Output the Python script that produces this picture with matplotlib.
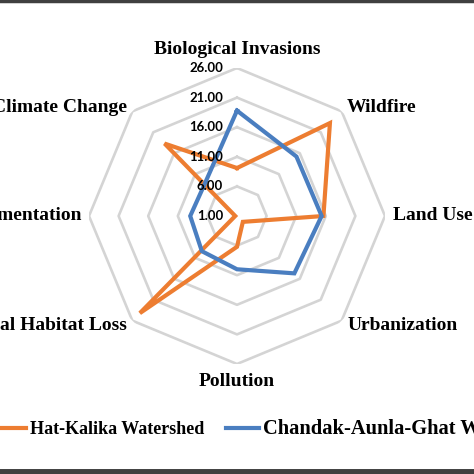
import numpy as np
import matplotlib
matplotlib.use('Agg')
import matplotlib.pyplot as plt
from matplotlib.lines import Line2D

# categories clockwise from the top
categories = ['Biological Invasions', 'Wildfire', 'Land Use', 'Urbanization',
              'Pollution', 'Natural Habitat Loss', 'Fragmentation', 'Climate Change']
hat_kalika = [9.1, 23.2, 15.6, 2.4, 6.2, 24.2, 1.3, 18.3]
chandak = [18.8, 15.2, 15.3, 14.7, 10.0, 9.4, 8.9, 8.7]
ring_values = [6, 11, 16, 21, 26]
tick_values = [1, 6, 11, 16, 21, 26]
series_names = ['Hat-Kalika Watershed', 'Chandak-Aunla-Ghat Watershed']

orange = '#ED7D31'
blue = '#4A7EC0'
grid_col = '#D4D4D4'
serif = ['Liberation Serif', 'DejaVu Serif']

fig = plt.figure(figsize=(4.74, 4.74), dpi=100)
size = 2 * 148 / 474
cy = 1 - 216 / 474
ax = fig.add_axes([0.5 - size / 2, cy - size / 2, size, size], projection='polar')
ax.set_theta_zero_location('N')
ax.set_theta_direction(-1)
ax.set_ylim(1, 26)
ax.set_axis_off()

n = len(categories)
angles = np.linspace(0, 2 * np.pi, n, endpoint=False)
closed = np.append(angles, angles[0])

# polygon grid rings
for v in ring_values:
    ax.plot(closed, [v] * (n + 1), color=grid_col, lw=1.9, zorder=1)

l1, = ax.plot(closed, hat_kalika + hat_kalika[:1], color=orange, lw=3, zorder=3,
              solid_joinstyle='miter')
l2, = ax.plot(closed, chandak + chandak[:1], color=blue, lw=3, zorder=4,
              solid_joinstyle='miter')

# radial tick labels
for v in tick_values:
    ax.annotate(f'{v:.2f}', xy=(0, v), xytext=(-14, 0), textcoords='offset pixels',
                ha='right', va='center', fontsize=9.5, fontweight='bold',
                family=['Lato', 'DejaVu Sans'], zorder=6, annotation_clip=False)

# category labels: (dx, dy, ha)
label_pos = [(0, 18, 'center'), (5, 4, 'left'), (8, 0, 'left'), (6, -5, 'left'),
             (0, -18, 'center'), (-5, -5, 'right'), (-7, 0, 'right'), (-5, 4, 'right')]
for ang, name, (dx, dy, ha) in zip(angles, categories, label_pos):
    ax.annotate(name, xy=(ang, 26), xytext=(dx, dy), textcoords='offset pixels',
                ha=ha, va='center', fontsize=14, fontweight='bold', family=serif,
                annotation_clip=False)

leg = fig.legend([l1, l2], series_names, loc='center left', ncol=2,
                 bbox_to_anchor=(-7 / 474, 1 - 429 / 474), frameon=False,
                 prop={'family': serif, 'weight': 'bold', 'size': 13},
                 handlelength=1.83, handletextpad=0.22, columnspacing=1.2,
                 borderpad=0, borderaxespad=0)
# the second entry is set in a larger size in the original
leg.get_texts()[1].set_fontsize(14.8)

# dark border at the top and bottom of the frame
fig.add_artist(Line2D([0, 1], [0.998, 0.998], transform=fig.transFigure,
                      color='#404040', lw=2.5))
fig.add_artist(Line2D([0, 1], [0.004, 0.004], transform=fig.transFigure,
                      color='#404040', lw=5))

fig.savefig('out.png', dpi=100)
